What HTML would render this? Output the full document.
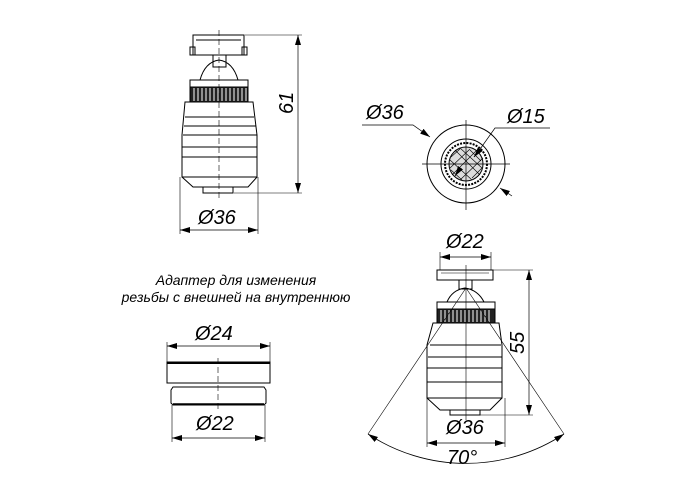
<!DOCTYPE html>
<html><head><style>body{margin:0;background:#fff}svg{display:block}</style></head><body>
<svg width="700" height="500" viewBox="0 0 700 500" xmlns="http://www.w3.org/2000/svg" font-family="Liberation Sans, DejaVu Sans, sans-serif" font-style="italic">
<defs><marker id="a" viewBox="0 0 10 6" refX="10" refY="3" markerWidth="10" markerHeight="6" orient="auto-start-reverse" markerUnits="userSpaceOnUse"><path d="M0,0L10,3L0,6z" fill="#000"/></marker></defs>
<g stroke="#000" fill="none" stroke-width="1">
<rect x="193" y="35" width="51" height="20"/>
<rect x="190" y="47" width="5" height="8"/><rect x="242" y="47" width="5" height="8"/>
<line x1="196" y1="40" x2="241" y2="40"/>
<rect x="213" y="55" width="13" height="12"/>
<path d="M200,80 Q205,62 219,60 Q233,62 238,80"/>
<rect x="190" y="80" width="58" height="7"/>
<rect x="190" y="87" width="58" height="15" fill="#222"/>
<g stroke="#fff" stroke-width="1"><path d="M194,88v13M198,88v13M202,88v13M206,88v13M210,88v13M214,88v13M218,88v13M222,88v13M226,88v13M230,88v13M234,88v13M238,88v13M242,88v13M246,88v13"/></g>
<path d="M185,102H253L257,135V177H182V135Z"/>
<path d="M185,117H254M184,126H256M183,135H257M182,147H257M182,157H257"/>
<path d="M182,177L193,187H248L257,177"/>
<rect x="203" y="187" width="30" height="6"/>
<line x1="219" y1="30" x2="219" y2="198" stroke-dasharray="6,3" stroke-width="0.6"/>
<line x1="245" y1="35" x2="302" y2="35" stroke-width="0.6"/><line x1="234" y1="193" x2="302" y2="193" stroke-width="0.6"/>
<line x1="298" y1="35" x2="298" y2="193" marker-start="url(#a)" marker-end="url(#a)" stroke-width="0.7"/>
<line x1="180" y1="177" x2="180" y2="234" stroke-width="0.6"/><line x1="258" y1="177" x2="258" y2="234" stroke-width="0.6"/>
<line x1="180" y1="230" x2="258" y2="230" marker-start="url(#a)" marker-end="url(#a)" stroke-width="0.7"/>
<circle cx="466" cy="164" r="39"/><circle cx="466" cy="164" r="25"/>
<circle cx="466" cy="164" r="21" stroke-dasharray="2,1.2" stroke-width="2"/>
<circle cx="466" cy="164" r="17" fill="#ddd"/>
<path d="M422,164H510M466,120V210" stroke-width="0.7"/>
<path d="M455,150L480,175M450,160L472,180M460,148L482,168M451,170L462,180M470,150L481,161M477,150L452,175M483,158L460,180M470,149L450,168M482,168L472,178M460,149L451,157" stroke-width="0.6"/>
<path d="M362,125H413L430,137" marker-end="url(#a)" stroke-width="0.7"/>
<path d="M550,128H495L478,152" stroke-width="0.7"/>
<line x1="478" y1="152" x2="474" y2="157" marker-end="url(#a)"/>
<line x1="459" y1="170" x2="455" y2="176" marker-end="url(#a)" stroke-width="0.7"/>
<line x1="512" y1="196" x2="500" y2="188" marker-end="url(#a)" stroke-width="0.7"/>
<rect x="167" y="362" width="103" height="21"/>
<line x1="167" y1="363" x2="270" y2="363" stroke-width="2"/>
<path d="M173,387H264L266,390V403L264,405H173L171,403V390Z"/>
<line x1="173" y1="404" x2="264" y2="404" stroke-width="1.5"/>
<line x1="218" y1="358" x2="218" y2="410" stroke-dasharray="6,3" stroke-width="0.6"/>
<path d="M167,362V342M270,362V342M172,405V442M265,405V442" stroke-width="0.6"/>
<line x1="167" y1="346" x2="270" y2="346" marker-start="url(#a)" marker-end="url(#a)" stroke-width="0.7"/>
<line x1="172" y1="438" x2="265" y2="438" marker-start="url(#a)" marker-end="url(#a)" stroke-width="0.7"/>
<rect x="437" y="270" width="56" height="10"/>
<line x1="441" y1="273" x2="489" y2="273" stroke-width="0.6"/>
<rect x="459" y="280" width="13" height="9"/>
<path d="M447,302Q452,290 465,288Q478,290 484,302"/>
<rect x="437" y="302" width="58" height="7"/>
<rect x="437" y="309" width="58" height="14" fill="#222"/>
<g stroke="#fff"><path d="M441,310v12M445,310v12M449,310v12M453,310v12M457,310v12M461,310v12M465,310v12M469,310v12M473,310v12M477,310v12M481,310v12M485,310v12M489,310v12"/></g>
<path d="M433,323H499L502,345V398H427V345Z"/>
<path d="M430,345H501M428,357H502M427,368H502M427,382H502"/>
<path d="M427,398L440,410H490L502,398"/>
<rect x="450" y="410" width="30" height="5"/>
<line x1="466" y1="265" x2="466" y2="420" stroke-width="0.6"/>
<path d="M440,270V252M491,270V252" stroke-width="0.6"/>
<line x1="440" y1="257" x2="491" y2="257" marker-start="url(#a)" marker-end="url(#a)" stroke-width="0.7"/>
<path d="M493,270H533M480,415H533" stroke-width="0.6"/>
<line x1="529" y1="270" x2="529" y2="415" marker-start="url(#a)" marker-end="url(#a)" stroke-width="0.7"/>
<path d="M427,398V447M505,398V447" stroke-width="0.6"/>
<line x1="427" y1="443" x2="505" y2="443" marker-start="url(#a)" marker-end="url(#a)" stroke-width="0.7"/>
<path d="M466,288L564,434M466,288L368,434" stroke-width="0.6"/>
<path d="M368,434A178,178 0 0 0 564,434" marker-start="url(#a)" marker-end="url(#a)" stroke-width="0.8"/>
</g>
<g font-size="20" fill="#000">
<text x="198" y="224">Ø36</text>
<text x="366" y="119">Ø36</text>
<text x="507" y="123">Ø15</text>
<text x="446" y="248">Ø22</text>
<text x="446" y="434">Ø36</text>
<text x="447" y="464">70°</text>
<text x="195" y="340">Ø24</text>
<text x="196" y="430">Ø22</text>
<text transform="translate(293,114) rotate(-90)">61</text>
<text transform="translate(524,354) rotate(-90)">55</text>
</g>
<g font-size="14" fill="#000" text-anchor="middle">
<text x="236" y="285">Адаптер для изменения</text>
<text x="236" y="302">резьбы с внешней на внутреннюю</text>
</g>
</svg>
</body></html>
